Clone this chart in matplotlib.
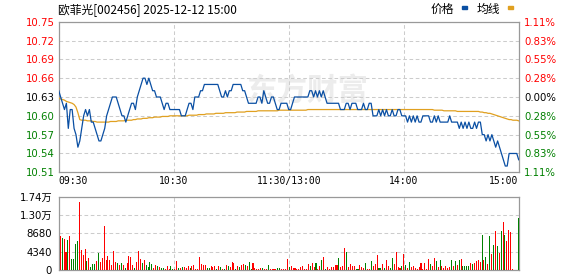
import matplotlib
matplotlib.use("Agg")
import matplotlib.pyplot as plt
from matplotlib.patches import Rectangle

plt.rcParams['font.family'] = ['DejaVu Sans', 'Noto Sans CJK SC']

# ---- data ----
title = "欧菲光[002456] 2025-12-12 15:00"
time_labels = ["09:30", "10:30", "11:30/13:00", "14:00", "15:00"]
time_ticks = [0, 60, 120, 180, 240]

price_ticks = [10.51, 10.54, 10.57, 10.60, 10.63, 10.66, 10.69, 10.72, 10.75]
price_labels = ["10.51", "10.54", "10.57", "10.60", "10.63", "10.66", "10.69", "10.72", "10.75"]
pct_labels = ["1.11%", "0.83%", "0.55%", "0.28%", "0.00%", "0.28%", "0.55%", "0.83%", "1.11%"]
prev_close = 10.63

vol_ticks = [0, 4340, 8680, 13020, 17360]
vol_labels = ["0", "4340", "8680", "1.30万", "1.74万"]

# one value per minute, 09:30 ... 15:00
price = [
    10.64, 10.63, 10.62, 10.61, 10.62, 10.58, 10.61, 10.61, 10.58, 10.57,
    10.55, 10.56, 10.58, 10.60, 10.61, 10.60, 10.61, 10.59, 10.59, 10.58,
    10.57, 10.56, 10.56, 10.57, 10.58, 10.60, 10.61, 10.62, 10.63, 10.63,
    10.63, 10.62, 10.61, 10.60, 10.60, 10.59, 10.60, 10.61, 10.62, 10.62,
    10.61, 10.63, 10.64, 10.65, 10.66, 10.66, 10.65, 10.66, 10.65, 10.64,
    10.64, 10.63, 10.63, 10.63, 10.62, 10.61, 10.62, 10.62, 10.61, 10.61,
    10.61, 10.61, 10.61, 10.61, 10.60, 10.60, 10.60, 10.61, 10.62, 10.62,
    10.61, 10.63, 10.63, 10.63, 10.64, 10.64, 10.65, 10.65, 10.65, 10.65,
    10.65, 10.65, 10.65, 10.65, 10.64, 10.63, 10.63, 10.64, 10.63, 10.64,
    10.64, 10.65, 10.65, 10.65, 10.65, 10.65, 10.64, 10.64, 10.63, 10.62,
    10.62, 10.62, 10.62, 10.62, 10.63, 10.63, 10.62, 10.64, 10.63, 10.62,
    10.62, 10.63, 10.63, 10.62, 10.61, 10.61, 10.62, 10.62, 10.62, 10.62,
    10.61, 10.61, 10.62, 10.63, 10.63, 10.63, 10.63, 10.63, 10.63, 10.63,
    10.63, 10.64, 10.64, 10.63, 10.64, 10.63, 10.64, 10.63, 10.64, 10.63,
    10.62, 10.62, 10.62, 10.62, 10.62, 10.62, 10.62, 10.61, 10.61, 10.61,
    10.62, 10.62, 10.61, 10.62, 10.62, 10.62, 10.61, 10.61, 10.61, 10.62,
    10.61, 10.61, 10.62, 10.62, 10.60, 10.60, 10.60, 10.61, 10.60, 10.61,
    10.60, 10.61, 10.60, 10.60, 10.61, 10.60, 10.60, 10.61, 10.61, 10.60,
    10.60, 10.60, 10.59, 10.60, 10.59, 10.60, 10.59, 10.60, 10.59, 10.59,
    10.60, 10.60, 10.60, 10.60, 10.59, 10.59, 10.60, 10.59, 10.60, 10.59,
    10.59, 10.59, 10.59, 10.59, 10.60, 10.59, 10.59, 10.59, 10.59, 10.58,
    10.59, 10.58, 10.59, 10.58, 10.59, 10.58, 10.58, 10.59, 10.58, 10.59,
    10.59, 10.57, 10.57, 10.56, 10.57, 10.56, 10.57, 10.56, 10.55, 10.56,
    10.55, 10.54, 10.53, 10.52, 10.52, 10.54, 10.54, 10.54, 10.54, 10.54,
    10.53,
]

avg_price = [
    10.628, 10.627, 10.626, 10.625, 10.623, 10.622, 10.621, 10.620, 10.618, 10.614,
    10.605, 10.594, 10.593, 10.593, 10.593, 10.592, 10.592, 10.592, 10.591, 10.591,
    10.590, 10.590, 10.590, 10.590, 10.590, 10.590, 10.590, 10.591, 10.591, 10.591,
    10.591, 10.592, 10.592, 10.592, 10.592, 10.593, 10.593, 10.593, 10.593, 10.594,
    10.594, 10.595, 10.595, 10.595, 10.596, 10.596, 10.596, 10.597, 10.597, 10.597,
    10.598, 10.598, 10.598, 10.598, 10.599, 10.599, 10.599, 10.599, 10.600, 10.600,
    10.600, 10.600, 10.600, 10.600, 10.600, 10.600, 10.600, 10.600, 10.601, 10.601,
    10.601, 10.601, 10.601, 10.602, 10.602, 10.602, 10.602, 10.603, 10.603, 10.603,
    10.603, 10.603, 10.604, 10.604, 10.604, 10.604, 10.604, 10.605, 10.605, 10.605,
    10.605, 10.605, 10.605, 10.606, 10.606, 10.606, 10.606, 10.606, 10.607, 10.607,
    10.607, 10.607, 10.607, 10.607, 10.608, 10.608, 10.608, 10.608, 10.608, 10.608,
    10.608, 10.608, 10.608, 10.608, 10.608, 10.609, 10.609, 10.609, 10.609, 10.609,
    10.609, 10.609, 10.609, 10.609, 10.609, 10.609, 10.609, 10.609, 10.609, 10.609,
    10.610, 10.610, 10.610, 10.610, 10.610, 10.610, 10.610, 10.610, 10.610, 10.610,
    10.610, 10.610, 10.610, 10.610, 10.610, 10.610, 10.610, 10.610, 10.610, 10.610,
    10.610, 10.610, 10.610, 10.610, 10.610, 10.610, 10.610, 10.610, 10.610, 10.610,
    10.610, 10.610, 10.610, 10.610, 10.610, 10.610, 10.610, 10.610, 10.610, 10.610,
    10.610, 10.610, 10.610, 10.610, 10.610, 10.610, 10.610, 10.610, 10.610, 10.610,
    10.610, 10.610, 10.610, 10.610, 10.610, 10.610, 10.610, 10.610, 10.610, 10.610,
    10.610, 10.610, 10.610, 10.610, 10.610, 10.610, 10.609, 10.609, 10.609, 10.609,
    10.609, 10.608, 10.608, 10.608, 10.608, 10.608, 10.608, 10.608, 10.607, 10.607,
    10.607, 10.607, 10.607, 10.607, 10.607, 10.607, 10.607, 10.607, 10.607, 10.607,
    10.606, 10.606, 10.605, 10.605, 10.604, 10.604, 10.603, 10.602, 10.601, 10.600,
    10.599, 10.598, 10.597, 10.596, 10.595, 10.594, 10.594, 10.593, 10.593, 10.593,
    10.592,
]

volume = [
    8100, 7620, 7470, 4320, 7150, 8100, 2670, 2670, 6200, 6900,
    16100, 4800, 3600, 5030, 2200, 2900, 790, 1490, 1490, 2200,
    4090, 1960, 2900, 10450, 2440, 3380, 2440, 1260, 4560, 1960,
    1730, 1260, 1730, 1260, 550, 1730, 3380, 3140, 1260, 550,
    1960, 4560, 2670, 1730, 2440, 1260, 790, 1960, 1490, 550,
    1260, 1020, 790, 550, 550, 310, 1020, 390, 1020,
    310, 310, 2200, 550, 550, 790, 790, 550, 1020, 550,
    1020, 1260, 310, 310, 3140, 1490, 1260, 1260, 550, 550,
    1020, 790, 1020, 310, 1020, 790, 310, 310, 1260, 1020,
    790, 1960, 1730, 310, 1020, 790, 1260, 1490, 1260, 1020,
    1960, 310, 1730, 550, 310, 310, 550, 550, 310, 310,
    1260, 310, 310, 310, 310, 550, 550, 310, 310, 310,
    2670,
    790, 1020, 550, 550, 310, 310, 790, 1020, 310, 310,
    1490, 1020, 1730, 790, 1730, 310, 1020, 2440, 3140, 310,
    790, 310, 790, 790, 1260, 1260, 2900, 790, 1020, 5270,
    4320, 790, 1490, 1020, 1020, 310, 310, 1260, 790, 550,
    1730, 310, 310, 2200, 1020, 1490, 3620, 550, 550, 1490,
    550, 2440, 1020, 550, 2900, 1490, 4320, 790, 550, 1020,
    3850, 1260, 550, 1960, 790, 1020, 550, 310, 790, 1730,
    310, 1730, 310, 2670, 1490, 1020, 2900, 2200, 790, 2440,
    1020, 550, 1020, 550, 790, 2440, 1020, 2200, 1260, 2440,
    2670, 1020, 1020, 1020, 1020, 1730, 1490, 1730, 2200, 2440,
    1960, 8330, 2440, 3140, 1490, 8100, 3850, 5970, 9270, 5740,
    4090, 9270, 11400, 8330, 6920, 9510, 9040, 310, 0, 0,
    12340,
]

# r = up minute, g = down minute
vol_dir = (
    "rgrrgrgggg" "rrrrgrgggr" "grrrrrrrrr" "grgrgrrrrg" "rrrgrggggr" "rgrggrrrg"
    "grrgrgrrrg" "rrrrrrrrgg" "rrrgrgrgrg" "rrrgrgrrgr" "ggrrrrrgrr" "grrrrggrrr" "r"
    "grrrrrrrrr" "rgrrgrrgrg" "rrrrrrgrrr" "grrrrggrrr" "grrgrrrggr" "grrggrrrrg"
    "rgrgrrrrrr" "rrrrgrrgrg" "rrrrrgrgrg" "rggggrgrrr" "rgrgrgrgrg" "rgrgrrrrrr" "g"
)

minutes = list(range(len(price)))

RED = '#ff0000'
GREEN = '#008000'
GRID = '#cccccc'
SPINE = '#999999'
dash = (0, (3.5, 2.5))

fig = plt.figure(figsize=(5.78, 2.76), dpi=100)
ax = fig.add_axes([0.1016, 0.3757, 0.7958, 0.5457])
axv = fig.add_axes([0.1016, 0.0207, 0.7958, 0.2667])

# watermark
ax.text(0.54, 0.54, "东方财富", transform=ax.transAxes, ha='center', va='center',
        fontsize=22, fontweight='bold', color='#ececec', family='Noto Sans CJK SC', zorder=0)

# ---- price panel ----
ax.plot(minutes, avg_price, color='#e0a020', lw=0.9, zorder=3)
ax.plot(minutes, price, color='#0a4fa3', lw=0.9, zorder=4)
ax.set_xlim(0, 240)
ax.set_ylim(10.51, 10.75)
ax.set_yticks(price_ticks)
ax.set_yticklabels(price_labels, fontsize=7.3)
for lab, v in zip(ax.get_yticklabels(), price_ticks):
    lab.set_color(RED if v > prev_close + 1e-9 else (GREEN if v < prev_close - 1e-9 else 'black'))
ax.set_xticks(time_ticks)
ax.set_xticklabels(time_labels, fontsize=7, family='DejaVu Sans Mono')
xl = ax.get_xticklabels()
xl[0].set_ha('left')
xl[-1].set_ha('right')
ax.tick_params(axis='both', length=0)
ax.tick_params(axis='y', pad=2.6)
ax.tick_params(axis='x', pad=3)
ax.grid(True, color=GRID, ls=dash, lw=0.75)
for s in ax.spines.values():
    s.set_color(SPINE)
    s.set_linewidth(0.9)

ax2 = ax.twinx()
ax2.set_ylim(10.51, 10.75)
ax2.set_yticks(price_ticks)
ax2.set_yticklabels(pct_labels, fontsize=7.3)
for lab, v in zip(ax2.get_yticklabels(), price_ticks):
    lab.set_color(RED if v > prev_close + 1e-9 else (GREEN if v < prev_close - 1e-9 else 'black'))
ax2.tick_params(axis='y', length=0, pad=3.8)
for s in ax2.spines.values():
    s.set_visible(False)

# ---- volume panel ----
bar_colors = [RED if d == 'r' else GREEN for d in vol_dir]
axv.bar(minutes, volume, width=0.55, color=bar_colors, linewidth=0, zorder=3)
axv.set_xlim(-0.8, 240.2)
axv.set_ylim(0, 17360)
axv.set_yticks(vol_ticks)
axv.set_yticklabels(vol_labels, fontsize=7.3)
axv.set_xticks([])
axv.tick_params(axis='y', length=0, pad=4.8)
axv.yaxis.grid(True, color=GRID, ls=dash, lw=0.75)
for f in [0.25, 0.5, 0.75]:
    axv.plot([f, f], [0, 1], transform=axv.transAxes, color=GRID, ls=dash, lw=0.75, zorder=1)
for s in axv.spines.values():
    s.set_color(SPINE)
    s.set_linewidth(0.9)

# ---- header ----
fig.text(58.3 / 578, 1 - 9.5 / 276, title, va='center', ha='left', fontsize=8.5,
         family=['Noto Sans CJK SC', 'DejaVu Sans'])
fig.text(431 / 578, 1 - 9.5 / 276, "价格", va='center', ha='left', fontsize=8.5, family='Noto Sans CJK SC')
fig.text(477 / 578, 1 - 9.5 / 276, "均线", va='center', ha='left', fontsize=8.5, family='Noto Sans CJK SC')
fig.patches.append(Rectangle((462 / 578, 1 - 9 / 276), 5 / 578, 3 / 276,
                             transform=fig.transFigure, color='#0a4fa3', figure=fig))
fig.patches.append(Rectangle((508 / 578, 1 - 9 / 276), 5 / 578, 3 / 276,
                             transform=fig.transFigure, color='#e0a020', figure=fig))

fig.savefig("out.png", dpi=100)
